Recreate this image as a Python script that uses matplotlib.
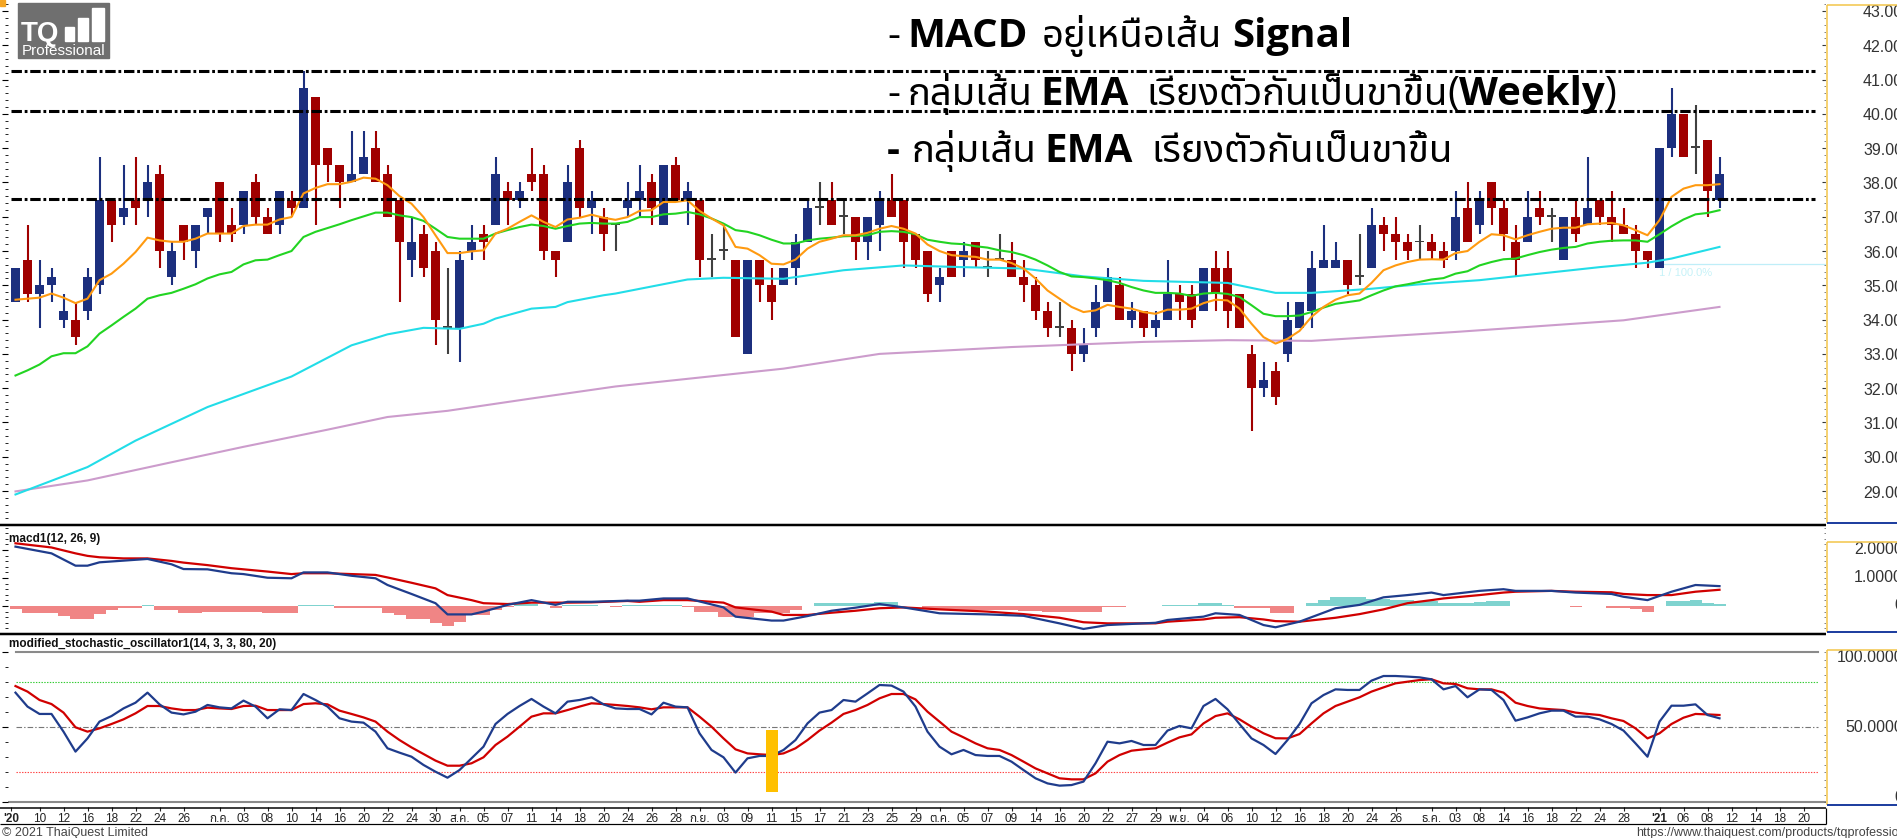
import numpy as np
import matplotlib
matplotlib.use("Agg")
import matplotlib.pyplot as plt
from matplotlib import font_manager as fm
from matplotlib.patches import Rectangle
from matplotlib.lines import Line2D

plt.rcParams['lines.scale_dashes'] = False

# ---------------- data ----------------
opens = [34.5, 35.75, 34.75, 35.0, 34.0, 34.0, 34.25, 35.0, 37.5, 37.0,
         37.5, 37.5, 38.25, 35.25, 36.75, 36.0, 37.0, 38.0, 36.75, 36.75,
         38.0, 37.0, 36.75, 37.5, 37.25, 40.5, 39.0, 38.5, 38.0, 38.25,
         39.0, 38.25, 37.5, 35.75, 36.5, 36.0, 33.75, 33.75, 36.0, 36.5,
         36.75, 37.75, 37.5, 38.25, 38.25, 36.0, 36.25, 39.0, 37.25, 37.0,
         36.75, 37.25, 37.5, 38.0, 36.75, 38.5, 37.5, 37.5, 35.75, 36.0,
         35.75, 33.0, 35.75, 35.0, 35.0, 35.5, 36.25, 37.25, 37.5, 37.0,
         37.0, 36.25, 36.75, 37.5, 37.5, 36.5, 36.0, 35.0, 36.0, 35.75,
         36.25, 35.5, 35.75, 35.75, 35.25, 35.0, 34.25, 33.75, 33.75, 33.0,
         33.75, 34.5, 35.0, 34.0, 34.25, 33.75, 34.0, 34.75, 34.75, 34.25,
         35.5, 35.5, 34.75, 33.0, 32.0, 32.5, 33.0, 33.75, 34.25, 35.5,
         35.5, 35.75, 35.25, 35.5, 36.75, 36.5, 36.25, 36.25, 36.25, 36.0,
         36.0, 37.25, 36.75, 38.0, 37.25, 36.25, 36.25, 37.25, 37.0, 35.75,
         37.0, 36.75, 37.5, 37.0, 36.75, 36.5, 36.0, 35.5, 39.0, 40.0,
         39.0, 39.25, 37.5]
highs = [35.5, 36.75, 35.75, 35.5, 34.75, 34.5, 35.5, 38.75, 37.5, 38.5,
         38.75, 38.5, 38.5, 36.25, 36.75, 36.75, 37.25, 38.0, 37.25, 37.75,
         38.25, 37.25, 37.75, 37.75, 41.25, 40.5, 39.0, 38.5, 39.5, 39.5,
         39.5, 38.5, 37.5, 37.0, 36.75, 36.25, 35.5, 36.0, 36.75, 36.75,
         38.75, 38.0, 38.0, 39.0, 38.5, 36.0, 38.5, 39.25, 37.75, 37.25,
         36.75, 38.0, 38.5, 38.25, 38.5, 38.75, 38.0, 37.5, 36.5, 36.75,
         35.75, 35.75, 35.75, 35.5, 35.5, 36.5, 37.5, 38.0, 38.0, 37.5,
         37.0, 37.0, 37.75, 38.25, 37.5, 36.5, 36.0, 35.5, 36.0, 36.25,
         36.25, 36.0, 36.5, 36.25, 35.75, 35.25, 34.5, 34.5, 34.0, 33.75,
         35.0, 35.5, 35.25, 34.5, 34.25, 34.25, 35.75, 35.0, 35.0, 35.5,
         36.0, 36.0, 34.75, 33.25, 32.75, 32.75, 34.5, 34.5, 36.0, 36.75,
         36.25, 35.75, 36.5, 37.25, 37.0, 37.0, 36.5, 36.75, 36.5, 36.25,
         37.75, 38.0, 37.75, 38.0, 37.5, 36.75, 37.75, 37.75, 37.25, 37.0,
         37.5, 38.75, 37.5, 37.75, 37.25, 36.75, 36.0, 39.0, 40.75, 40.0,
         40.25, 39.25, 38.75]
lows = [34.5, 34.5, 33.75, 34.5, 33.75, 33.25, 34.0, 34.75, 36.25, 36.75,
        36.75, 37.0, 35.5, 35.0, 35.75, 35.5, 36.5, 36.25, 36.25, 36.5,
        36.75, 36.5, 36.5, 37.0, 37.25, 36.75, 38.0, 37.25, 38.0, 38.25,
        38.0, 37.0, 34.5, 35.25, 35.25, 33.25, 33.0, 32.75, 35.75, 35.75,
        36.75, 36.75, 37.25, 37.75, 35.75, 35.25, 36.25, 37.0, 36.5, 36.0,
        36.0, 37.0, 37.0, 36.75, 36.75, 37.5, 36.75, 35.25, 35.25, 35.75,
        33.5, 33.0, 34.5, 34.0, 35.0, 35.0, 36.25, 36.75, 36.75, 36.5,
        35.75, 35.75, 36.0, 37.0, 35.5, 35.5, 34.5, 34.5, 35.25, 35.25,
        35.5, 35.25, 35.75, 35.25, 34.5, 34.0, 33.5, 33.5, 32.5, 32.75,
        33.5, 34.5, 34.0, 33.75, 33.5, 33.5, 34.0, 34.0, 33.75, 34.25,
        34.25, 33.75, 33.75, 30.75, 31.75, 31.5, 32.75, 33.75, 33.75, 35.5,
        35.5, 34.75, 35.0, 35.5, 36.0, 35.75, 35.75, 35.75, 35.75, 35.5,
        35.75, 36.25, 36.5, 36.75, 36.0, 35.25, 36.25, 36.75, 36.25, 35.75,
        36.25, 36.75, 36.75, 36.25, 36.5, 35.5, 35.5, 35.5, 38.75, 38.75,
        38.25, 37.0, 37.25]
closes = [35.5, 34.75, 35.0, 35.25, 34.25, 33.5, 35.25, 37.5, 36.75, 37.25,
          37.25, 38.0, 36.0, 36.0, 36.25, 36.75, 37.25, 36.5, 36.5, 37.75,
          37.0, 36.5, 37.75, 37.25, 40.75, 38.5, 38.5, 38.0, 38.25, 38.75,
          38.0, 37.0, 36.25, 36.25, 35.5, 34.0, 33.75, 35.75, 36.25, 36.25,
          38.25, 37.5, 37.75, 38.0, 36.0, 35.75, 38.0, 37.25, 37.5, 36.5,
          36.75, 37.5, 37.75, 37.25, 38.5, 37.5, 37.75, 35.75, 35.75, 36.0,
          33.5, 35.75, 35.0, 34.5, 35.5, 36.25, 37.25, 37.25, 36.75, 37.0,
          36.25, 37.0, 37.5, 37.0, 36.25, 35.75, 34.75, 35.25, 35.25, 36.0,
          35.75, 35.5, 35.75, 35.25, 35.0, 34.25, 33.75, 33.75, 33.0, 33.25,
          34.5, 35.25, 34.0, 34.25, 33.75, 34.0, 34.75, 34.5, 34.0, 35.5,
          34.75, 34.25, 33.75, 32.0, 32.25, 31.75, 34.0, 34.5, 35.5, 35.75,
          35.75, 35.0, 35.25, 36.75, 36.5, 36.25, 36.0, 36.25, 36.0, 35.75,
          37.0, 36.25, 37.5, 37.25, 36.5, 35.75, 37.0, 37.0, 37.0, 37.0,
          36.5, 37.25, 37.0, 36.75, 36.5, 36.0, 35.75, 39.0, 40.0, 38.75,
          39.0, 37.75, 38.25]

ema_fast = [34.58, 34.61, 34.64, 34.76, 34.64, 34.48, 34.61, 35.15, 35.34, 35.63,
            35.97, 36.39, 36.31, 36.27, 36.27, 36.36, 36.51, 36.51, 36.51, 36.73,
            36.77, 36.77, 36.92, 36.99, 37.68, 37.84, 37.95, 37.95, 38.02, 38.14,
            38.11, 37.92, 37.60, 37.38, 36.99, 36.46, 35.94, 35.94, 35.99, 36.02,
            36.51, 36.65, 36.85, 37.04, 36.85, 36.70, 36.92, 36.97, 37.06, 36.97,
            36.91, 36.99, 37.17, 37.19, 37.43, 37.43, 37.48, 37.17, 36.95, 36.75,
            36.12, 36.07, 35.88, 35.63, 35.61, 35.75, 36.07, 36.27, 36.36, 36.46,
            36.46, 36.53, 36.65, 36.73, 36.65, 36.51, 36.19, 36.00, 35.88, 35.85,
            35.83, 35.75, 35.75, 35.65, 35.49, 35.20, 34.85, 34.61, 34.37, 34.22,
            34.27, 34.43, 34.37, 34.32, 34.22, 34.17, 34.29, 34.29, 34.32, 34.48,
            34.58, 34.56, 34.32, 33.88, 33.49, 33.30, 33.44, 33.67, 34.08, 34.37,
            34.58, 34.71, 34.76, 35.07, 35.44, 35.58, 35.68, 35.75, 35.76, 35.75,
            35.94, 36.00, 36.27, 36.49, 36.46, 36.34, 36.46, 36.56, 36.65, 36.68,
            36.68, 36.78, 36.80, 36.82, 36.75, 36.61, 36.46, 36.90, 37.58, 37.82,
            37.92, 37.92, 37.95]
ema_mid = [32.37, 32.52, 32.69, 32.93, 33.02, 33.02, 33.22, 33.59, 33.83, 34.08,
           34.32, 34.61, 34.71, 34.78, 34.90, 35.03, 35.20, 35.32, 35.39, 35.61,
           35.73, 35.75, 35.88, 36.00, 36.41, 36.56, 36.67, 36.78, 36.90, 37.01,
           37.12, 37.12, 37.04, 36.99, 36.88, 36.65, 36.41, 36.36, 36.36, 36.36,
           36.51, 36.61, 36.70, 36.77, 36.73, 36.65, 36.73, 36.80, 36.82, 36.80,
           36.80, 36.85, 36.99, 36.99, 37.07, 37.09, 37.14, 37.07, 36.95, 36.80,
           36.61, 36.56, 36.46, 36.33, 36.22, 36.22, 36.31, 36.36, 36.39, 36.43,
           36.44, 36.46, 36.56, 36.58, 36.56, 36.49, 36.33, 36.27, 36.22, 36.20,
           36.14, 36.10, 36.02, 35.97, 35.88, 35.75, 35.58, 35.39, 35.26, 35.24,
           35.20, 35.15, 35.07, 34.95, 34.85, 34.78, 34.78, 34.76, 34.69, 34.76,
           34.78, 34.75, 34.66, 34.42, 34.17, 34.10, 34.10, 34.12, 34.22, 34.35,
           34.46, 34.51, 34.56, 34.71, 34.85, 34.97, 35.03, 35.10, 35.17, 35.21,
           35.34, 35.41, 35.58, 35.68, 35.76, 35.78, 35.88, 35.97, 36.04, 36.09,
           36.12, 36.22, 36.27, 36.30, 36.31, 36.31, 36.27, 36.49, 36.72, 36.92,
           37.07, 37.11, 37.19]
ema_slow_idx = [0, 6, 10, 16, 23, 28, 31, 34, 37, 39, 40, 43, 45, 46, 49, 50, 56, 59, 64, 69,
                74, 79, 84, 89, 94, 101, 105, 108, 113, 117, 122, 127, 132, 136, 138, 142]
ema_slow = [28.90, 29.70, 30.47, 31.45, 32.34, 33.25, 33.57, 33.76, 33.73, 33.88, 34.03, 34.32,
            34.37, 34.51, 34.71, 34.76, 35.17, 35.22, 35.19, 35.44, 35.58, 35.53, 35.49, 35.26,
            35.13, 35.07, 34.78, 34.78, 34.90, 35.03, 35.15, 35.34, 35.53, 35.66, 35.78, 36.12]
ema_long_idx = [0, 6, 13, 19, 26, 31, 36, 43, 50, 64, 72, 83, 94, 101, 108, 120, 134, 142]
ema_long = [28.99, 29.31, 29.84, 30.29, 30.79, 31.16, 31.34, 31.70, 32.05, 32.57, 33.00,
            33.20, 33.35, 33.40, 33.38, 33.64, 33.98, 34.37]

level_lines = [41.24, 40.08, 37.53]
fib_level = 35.61
fib_start = 137

price_ticks = [43, 42, 41, 40, 39, 38, 37, 36, 35, 34, 33, 32, 31, 30, 29]

macd_idx = [0, 3, 5, 6, 7, 9, 11, 13, 14, 16, 18, 19, 21, 23, 24, 26, 28, 30, 31, 33,
            35, 36, 38, 39, 41, 43, 45, 46, 48, 51, 52, 54, 56, 59, 60, 63, 64, 66, 68, 70,
            72, 74, 77, 81, 84, 87, 89, 91, 95, 96, 99, 100, 102, 104, 105, 107, 110, 112, 114, 116,
            118, 119, 122, 124, 125, 128, 130, 133, 134, 136, 138, 140, 142]
macd_line = [2.12, 1.88, 1.44, 1.44, 1.56, 1.62, 1.68, 1.49, 1.32, 1.31, 1.17, 1.14, 1.01, 0.99,
             1.20, 1.20, 1.08, 0.99, 0.75, 0.43, 0.10, -0.30, -0.30, -0.20, 0.04, 0.21, 0.04,
             0.15, 0.15, 0.19, 0.19, 0.27, 0.27, -0.05, -0.38, -0.52, -0.52, -0.36, -0.17, -0.06,
             0.07, -0.05, -0.26, -0.30, -0.35, -0.62, -0.82, -0.68, -0.60, -0.50, -0.38, -0.26,
             -0.32, -0.68, -0.76, -0.56, -0.08, 0.04, 0.31, 0.39, 0.48, 0.39, 0.54, 0.60, 0.54,
             0.54, 0.48, 0.43, 0.33, 0.21, 0.51, 0.75, 0.71]
signal_line = [2.24, 2.09, 1.88, 1.79, 1.74, 1.70, 1.70, 1.61, 1.55, 1.46, 1.35, 1.31, 1.23, 1.14,
               1.17, 1.17, 1.14, 1.11, 1.02, 0.83, 0.63, 0.39, 0.21, 0.10, 0.07, 0.12, 0.12,
               0.12, 0.13, 0.18, 0.15, 0.21, 0.21, 0.12, -0.05, -0.20, -0.32, -0.32, -0.24, -0.17,
               -0.08, -0.05, -0.12, -0.20, -0.29, -0.42, -0.58, -0.62, -0.62, -0.56, -0.48, -0.42,
               -0.40, -0.48, -0.54, -0.56, -0.42, -0.29, -0.12, 0.10, 0.21, 0.27, 0.39, 0.48, 0.51,
               0.54, 0.51, 0.49, 0.43, 0.39, 0.39, 0.51, 0.58]
macd_hist = [-0.12, -0.26, -0.26, -0.26, -0.35, -0.45, -0.45, -0.29, -0.14, -0.07,
             -0.07, 0.02, -0.14, -0.14, -0.26, -0.26, -0.23, -0.23, -0.23, -0.23,
             -0.23, -0.26, -0.26, -0.26, 0.04, 0.04, 0.04, -0.08, -0.08, -0.08,
             -0.08, -0.24, -0.32, -0.48, -0.48, -0.62, -0.71, -0.57, -0.32, -0.32,
             -0.14, -0.02, 0.07, 0.07, 0.0, -0.08, 0.02, 0.02, 0.02, 0.0,
             -0.05, 0.03, 0.02, 0.02, 0.02, 0.02, -0.05, -0.20, -0.20, -0.38,
             -0.38, -0.38, -0.26, -0.26, -0.26, -0.14, 0.0, 0.10, 0.10, 0.10,
             0.10, 0.10, 0.14, 0.14, 0.01, 0.01, -0.12, -0.12, -0.13, -0.13,
             -0.13, -0.13, -0.13, -0.13, -0.17, -0.17, -0.20, -0.20, -0.20, -0.20,
             -0.20, -0.05, -0.05, 0.0, 0.0, 0.0, 0.03, 0.03, 0.03, 0.12,
             0.12, 0.04, -0.08, -0.08, -0.08, -0.24, -0.24, 0.0, 0.12, 0.21,
             0.31, 0.31, 0.31, 0.24, 0.24, 0.21, 0.21, 0.19, 0.19, 0.12,
             0.12, 0.12, 0.14, 0.18, 0.18, 0.01, 0.01, 0.01, 0.01, 0.01,
             -0.05, 0.0, 0.0, -0.07, -0.07, -0.12, -0.20, 0.0, 0.18, 0.18,
             0.21, 0.10, 0.06]
macd_ticks = [2, 1, 0]
macd_tick_labels = ["2.0000", "1.0000", "0"]

stoch_k = [72.9, 63.6, 58.7, 58.7, 46.9, 33.6, 42.4, 53.6, 57.3, 62.4,
           66.2, 72.9, 65.1, 59.6, 58.4, 60.2, 64.7, 63.1, 62.4, 67.6,
           63.6, 55.8, 61.8, 61.3, 72.0, 68.0, 63.6, 55.8, 53.6, 52.9,
           46.9, 35.8, 32.9, 30.2, 24.7, 20.2, 16.2, 21.3, 29.1, 36.9,
           52.0, 58.7, 64.0, 68.7, 63.6, 59.1, 66.9, 68.0, 69.8, 65.1,
           62.4, 62.0, 62.0, 58.4, 66.2, 63.6, 63.1, 45.8, 34.7, 29.8,
           19.6, 29.1, 30.7, 30.7, 34.7, 41.3, 52.4, 59.6, 61.3, 68.0,
           66.9, 72.4, 78.0, 77.6, 73.6, 63.6, 46.9, 36.9, 31.8, 34.7,
           31.3, 30.7, 30.7, 26.9, 21.3, 15.8, 12.4, 10.9, 11.3, 13.6,
           25.8, 40.2, 39.1, 40.7, 38.0, 38.0, 47.6, 50.7, 49.1, 64.0,
           68.7, 61.8, 52.0, 42.4, 38.0, 32.0, 41.3, 52.0, 65.8, 71.3,
           75.1, 74.7, 74.7, 80.9, 84.0, 84.0, 83.6, 83.1, 81.8, 75.1,
           77.3, 69.8, 75.1, 74.7, 68.0, 54.2, 56.4, 59.1, 60.9, 60.9,
           56.9, 56.9, 55.1, 52.0, 47.6, 39.1, 30.2, 53.6, 64.2, 64.2,
           65.1, 58.0, 55.8]
stoch_d = [77.3, 73.6, 68.0, 65.3, 59.6, 49.8, 46.9, 49.1, 52.0, 55.1,
           59.1, 64.0, 64.0, 62.4, 61.3, 61.3, 62.9, 62.4, 62.0, 64.0,
           64.2, 61.3, 61.3, 61.3, 65.3, 65.8, 65.1, 60.9, 58.7, 56.4,
           53.6, 46.9, 41.3, 36.4, 32.0, 27.6, 24.2, 24.2, 25.8, 29.8,
           38.0, 43.6, 50.2, 56.9, 59.1, 59.1, 61.3, 63.6, 65.8, 65.3,
           64.7, 64.0, 63.1, 61.8, 63.1, 63.1, 63.1, 56.9, 50.2, 42.4,
           35.1, 32.4, 31.8, 31.3, 32.4, 35.8, 41.3, 47.6, 52.9, 58.7,
           61.3, 64.7, 69.1, 72.0, 72.0, 68.4, 60.2, 53.6, 46.9, 43.1,
           39.1, 35.8, 34.7, 31.3, 26.9, 22.4, 19.1, 15.8, 15.1, 15.1,
           19.1, 26.9, 31.3, 34.2, 35.1, 35.8, 39.6, 43.1, 45.1, 52.4,
           57.3, 59.1, 55.1, 50.2, 45.8, 42.5, 42.4, 45.3, 52.4, 59.1,
           64.0, 66.9, 69.8, 73.6, 76.4, 79.1, 80.2, 81.3, 81.8, 79.1,
           78.7, 75.8, 75.1, 75.1, 72.9, 66.2, 64.0, 62.4, 61.8, 61.3,
           59.6, 58.7, 58.0, 55.8, 54.0, 49.1, 42.4, 45.8, 52.0, 56.2,
           58.7, 58.4, 58.0]
stoch_levels = [80, 50, 20]
stoch_ticks = [100, 50, 0]
stoch_tick_labels = ["100.0000", "50.0000", "0"]
marker_idx = 63
marker_low = 7
marker_high = 48

xt_idx = [-0.35, 2, 4, 6, 8, 10, 12, 14,
          17, 19, 21, 23, 25, 27, 29, 31, 33, 35,
          37, 39, 41, 43, 45, 47, 49, 51, 53, 55,
          57, 59, 61, 63, 65, 67, 69, 71, 73, 75,
          77, 79, 81, 83, 85, 87, 89, 91, 93, 95,
          97, 99, 101, 103, 105, 107, 109, 111, 113, 115,
          118, 120, 122, 124, 126, 128, 130, 132, 134,
          137, 139, 141, 143, 145, 147, 149]
xt_lab = ["'20", "10", "12", "16", "18", "22", "24", "26",
          "ก.ค.", "03", "08", "10", "14", "16", "20", "22", "24", "30",
          "ส.ค.", "05", "07", "11", "14", "18", "20", "24", "26", "28",
          "ก.ย.", "03", "09", "11", "15", "17", "21", "23", "25", "29",
          "ต.ค.", "05", "07", "09", "14", "16", "20", "22", "27", "29",
          "พ.ย.", "04", "06", "10", "12", "16", "18", "20", "24", "26",
          "ธ.ค.", "03", "08", "14", "16", "18", "22", "24", "28",
          "'21", "06", "08", "12", "14", "18", "20"]

# ---------------- fonts ----------------
def find_thai_font():
    try:
        from matplotlib.ft2font import FT2Font
    except Exception:
        return None
    prefer = ['Noto Sans Thai', 'Noto Sans Thai UI', 'Noto Sans Thai Looped', 'Loma', 'Garuda',
              'Waree', 'Umpush', 'Sawasdee', 'Tlwg Typo', 'Norasi', 'Kinnari', 'Noto Serif Thai']
    found = set()
    for f in fm.fontManager.ttflist:
        try:
            ft = FT2Font(f.fname)
            if ft.get_char_index(0x0E01):
                found.add(f.name)
        except Exception:
            pass
    for p in prefer:
        if p in found:
            return p
    if found:
        return sorted(found)[0]
    return None

THAI = find_thai_font()
LAT = ['Open Sans'] + ([THAI] if THAI else []) + ['DejaVu Sans']
THF = ([THAI] if THAI else []) + ['DejaVu Sans']
SANS = ['Liberation Sans'] + ([THAI] if THAI else []) + ['DejaVu Sans']

# ---------------- figure ----------------
W, H, DPI = 1897, 838, 100
fig = plt.figure(figsize=(W / DPI, H / DPI), dpi=DPI)
fig.patch.set_facecolor('white')


def rect(x0, y0, x1, y1):
    return [x0 / W, 1 - y1 / H, (x1 - x0) / W, (y1 - y0) / H]


def fx(px):
    return px / W


def fy(py):
    return 1 - py / H


def fline(xs, ys, color, lw_px, z=10, ls='-'):
    fig.add_artist(Line2D([fx(v) for v in xs], [fy(v) for v in ys], color=color,
                          linewidth=lw_px * 0.72, zorder=z, linestyle=ls,
                          solid_capstyle='butt'))


BLUE_C = '#1c2f7e'
RED_C = '#a00000'
DOJI_C = '#404040'
LINE_BLUE = '#1f3c8c'
LINE_RED = '#d00000'
YEL = '#f2c445'
AXBLUE = '#2040a0'
XL = (-0.625, 150.875)
AX_L, AX_R = 8, 1826

# ---------- price panel ----------
ax_p = fig.add_axes(rect(AX_L, 0, AX_R, 524))
x = np.arange(len(opens))
o = np.array(opens); h = np.array(highs); l = np.array(lows); c = np.array(closes)
cols = np.where(c > o, BLUE_C, np.where(c < o, RED_C, DOJI_C))
ax_p.vlines(x, l, h, colors=cols, linewidth=1.5, zorder=3)
ax_p.bar(x, np.maximum(np.abs(c - o), 0.05), bottom=np.minimum(o, c), width=0.82,
         color=cols, linewidth=0, zorder=4)
ax_p.plot(ema_long_idx, ema_long, color='#cc9ccc', lw=1.5, zorder=5)
ax_p.plot(ema_slow_idx, ema_slow, color='#22dde8', lw=1.5, zorder=5)
ax_p.plot(x, ema_mid, color='#22d422', lw=1.5, zorder=6)
ax_p.plot(x, ema_fast, color='#ff9a10', lw=1.5, zorder=7)
for lv in level_lines:
    ax_p.plot([-0.375, 149.96], [lv, lv], color='black', lw=2.2,
              linestyle=(0, (7.5, 2.0, 2.0, 2.0)), zorder=8)
ax_p.plot([fib_start, XL[1]], [fib_level, fib_level], color='#bfeef8', lw=0.9, zorder=2)
ax_p.text(139.2, fib_level - 0.25, '1 / 100.0%', color='#c6f2f8', fontsize=8,
          ha='center', va='center', family=SANS, zorder=2)
for s in ax_p.spines.values():
    s.set_visible(False)
ax_p.set_xticks([])
ax_p.set_yticks(price_ticks)
ax_p.set_yticks(np.arange(28.2, 43.3, 0.2), minor=True)
ax_p.tick_params(axis='y', which='major', direction='out', length=4, width=0.8, labelleft=False)
ax_p.tick_params(axis='y', which='minor', direction='out', length=2, width=0.6)
tr = ax_p.get_yaxis_transform()
ax_p.hlines(price_ticks, 1 - 4 / (AX_R - AX_L), 1, transform=tr, color='#333', lw=0.8, zorder=9)
ax_p.hlines(np.arange(28.2, 43.3, 0.2), 1 - 2 / (AX_R - AX_L), 1, transform=tr, color='#555', lw=0.5, zorder=9)
xr = 1 + (1903 - AX_R) / (AX_R - AX_L)
for v in price_ticks:
    ax_p.text(xr, v - 2 / 34.29, f"{v:.2f}", transform=tr, ha='right', va='center',
              fontsize=11.5, color='#333333', family='Liberation Sans', clip_on=False)
ax_p.set_xlim(*XL)
ax_p.set_ylim(43 - 513 / 34.29, 43 + 11 / 34.29)

# ---------- MACD panel ----------
ax_m = fig.add_axes(rect(AX_L, 525, AX_R, 633))
hist = np.array(macd_hist)
ax_m.bar(x, hist, width=1.0, color=np.where(hist >= 0, '#7fd3cf', '#f08585'), linewidth=0, zorder=2)
ax_m.plot(macd_idx, signal_line, color=LINE_RED, lw=1.6, zorder=3)
ax_m.plot(macd_idx, macd_line, color=LINE_BLUE, lw=1.6, zorder=4)
for s in ax_m.spines.values():
    s.set_visible(False)
ax_m.set_xticks([])
ax_m.set_yticks(macd_ticks)
ax_m.set_yticks(np.arange(-0.8, 2.9, 0.2), minor=True)
ax_m.tick_params(axis='y', which='major', direction='out', length=4, width=0.8, labelleft=False)
ax_m.tick_params(axis='y', which='minor', direction='out', length=2, width=0.6)
trm = ax_m.get_yaxis_transform()
ax_m.hlines(np.arange(-0.8, 2.9, 0.2), 1 - 2 / (AX_R - AX_L), 1, transform=trm, color='#555', lw=0.5)
for v, lab in zip(macd_ticks, macd_tick_labels):
    ax_m.text(xr, v, lab, transform=trm, ha='right', va='center', fontsize=11.5,
              color='#333333', family='Liberation Sans', clip_on=False)
ax_m.text(0.0005, 0.93, 'macd1(12, 26, 9)', transform=ax_m.transAxes, fontsize=8.5,
          fontweight='bold', color='#111', family='Liberation Sans', va='top', ha='left')
ax_m.set_xlim(*XL)
ax_m.set_ylim((606 - 633) / 28, (606 - 525) / 28)

# ---------- Stochastic panel ----------
ax_s = fig.add_axes(rect(AX_L, 634, AX_R, 807))
ax_s.plot([0.0, 150.2], [100, 100], color='#8a8a8a', lw=1.5, zorder=1)
ax_s.plot(XL, [0, 0], color='#8a8a8a', lw=1.5, zorder=1)
ax_s.plot([0.0, 150.2], [stoch_levels[0]] * 2, color='#33cc33', lw=0.8, linestyle=(0, (1, 1)), zorder=1)
ax_s.plot([0.0, 150.2], [stoch_levels[1]] * 2, color='#777777', lw=0.8, linestyle=(0, (4, 1.5, 1, 1.5)), zorder=1)
ax_s.plot([0.0, 150.2], [stoch_levels[2]] * 2, color='#ff4444', lw=0.8, linestyle=(0, (1, 1)), zorder=1)
ax_s.plot(x, stoch_d, color=LINE_RED, lw=1.6, zorder=3)
ax_s.plot(x, stoch_k, color=LINE_BLUE, lw=1.6, zorder=4)
ax_s.bar([marker_idx], [marker_high - marker_low], bottom=[marker_low], width=1.0,
         color='#ffc000', linewidth=0, zorder=6)
for s in ax_s.spines.values():
    s.set_visible(False)
ax_s.set_yticks(stoch_ticks)
ax_s.set_yticks(np.arange(0, 101, 10), minor=True)
ax_s.tick_params(axis='y', which='major', direction='out', length=4, width=0.8, labelleft=False)
ax_s.tick_params(axis='y', which='minor', direction='out', length=2, width=0.6)
trs = ax_s.get_yaxis_transform()
ax_s.hlines(np.arange(0, 101, 5), 1 - 2 / (AX_R - AX_L), 1, transform=trs, color='#555', lw=0.5)
for v, lab, py in zip(stoch_ticks, stoch_tick_labels, [657, 727, 797]):
    fig.text(fx(1903), fy(py), lab, ha='right', va='center', fontsize=11.5,
             color='#333333', family='Liberation Sans')
ax_s.text(0.0005, 0.975, 'modified_stochastic_oscillator1(14, 3, 3, 80, 20)', transform=ax_s.transAxes,
          fontsize=8.5, fontweight='bold', color='#111', family='Liberation Sans', va='top', ha='left')
ax_s.set_xticks(xt_idx)
ax_s.set_xticklabels(xt_lab)
ax_s.tick_params(axis='x', direction='out', length=3, width=0.8, pad=1.5, labelsize=8.5,
                 colors='#222222')
for t in ax_s.get_xticklabels():
    t.set_family(SANS)
    if t.get_text().startswith("'"):
        t.set_fontweight('bold')
ax_s.set_xlim(*XL)
ax_s.set_ylim(50 + (727 - 807) / 1.5, 50 + (727 - 634) / 1.5)

# ---------- frames / separators ----------
fline([0, AX_R], [524.5, 524.5], 'black', 2.5)
fline([0, AX_R], [633.5, 633.5], 'black', 2.5)
fline([0, AX_R], [807.5, 807.5], 'black', 1.5)
fline([0, AX_R], [824, 824], 'black', 1.2)
fline([AX_R, AX_R], [808, 824], 'black', 1.2)
fline([AX_R + 1, AX_R + 1], [5, 523], YEL, 1.5)
fline([AX_R + 1, W], [5, 5], YEL, 1.5)
fline([AX_R + 1, W], [523, 523], AXBLUE, 2)
fline([AX_R + 1, AX_R + 1], [542, 632], YEL, 1.5)
fline([AX_R + 1, W], [542, 542], YEL, 1.5)
fline([AX_R + 1, W], [632, 632], AXBLUE, 2)
fline([AX_R + 1, AX_R + 1], [650, 805], YEL, 1.5)
fline([AX_R + 1, W], [650, 650], YEL, 1.5)
fline([AX_R + 1, W], [805, 805], AXBLUE, 2)

# ---------- logo ----------
fig.add_artist(Rectangle((fx(18), fy(58)), 91 / W, 55 / H, color='#6f6f6f', zorder=20))
fig.text(fx(21), fy(41), 'TQ', color='white', fontsize=20, fontweight='bold',
         family='Liberation Sans', va='baseline', ha='left', zorder=21)
for bx0, bx1, by0 in [(65, 74, 27), (78, 88, 18), (92, 104, 8)]:
    fig.add_artist(Rectangle((fx(bx0), fy(41)), (bx1 - bx0) / W, (41 - by0) / H,
                             color='white', zorder=21))
fig.text(fx(22), fy(55), 'Professional', color='white', fontsize=11,
         family='Liberation Sans', va='baseline', ha='left', zorder=21)
fig.add_artist(Rectangle((0, fy(6)), 5 / W, 6 / H, color='#f5a623', zorder=21))

# ---------- annotations ----------
SZ_L = 29
SZ_T = 27.5
ann = [
    (47, [("-", 887, 'normal', LAT, SZ_L, 0), ("MACD", 907, 'bold', LAT, SZ_L, 6),
          ("อยู่เหนือเส้น", 1042, 'normal', THF, SZ_T, 8), ("Signal", 1232, 'bold', LAT, SZ_L, 8)]),
    (105, [("-", 887, 'normal', LAT, SZ_L, 0), ("กลุ่มเส้น", 907, 'normal', THF, SZ_T, 6),
           ("EMA", 1040, 'bold', LAT, SZ_L, 8), ("เรียงตัวกันเป็นขาขึ้น", 1146, 'normal', THF, SZ_T, 8),
           ("(", 1440, 'normal', LAT, SZ_L, 0), ("Weekly", 1448, 'bold', LAT, SZ_L, 0),
           (")", 1595, 'normal', LAT, SZ_L, 0)]),
    (162, [("-", 887, 'bold', LAT, SZ_L, 0), ("กลุ่มเส้น", 911, 'normal', THF, SZ_T, 6),
           ("EMA", 1044, 'bold', LAT, SZ_L, 8), ("เรียงตัวกันเป็นขาขึ้น", 1151, 'normal', THF, SZ_T, 8)]),
]
renderer = fig.canvas.get_renderer()
for yb, pieces in ann:
    prev_end = None
    for txt, x0, wt, fam, sz, gap in pieces:
        xs = x0 if prev_end is None else max(x0, prev_end + gap)
        t = fig.text(fx(xs), fy(yb), txt, fontsize=sz, fontweight=wt, family=fam,
                     color='black', ha='left', va='baseline', zorder=30)
        bb = t.get_window_extent(renderer=renderer)
        prev_end = bb.x1

# ---------- footer ----------
fig.text(fx(2), fy(836), '© 2021 ThaiQuest Limited', fontsize=9, color='#444444',
         family='Liberation Sans', ha='left', va='baseline')
fig.text(fx(1636), fy(836), 'https://www.thaiquest.com/products/tqprofessional', fontsize=9,
         color='#444444', family='Liberation Sans', ha='left', va='baseline')

fig.savefig('out.png', dpi=DPI, facecolor='white')
